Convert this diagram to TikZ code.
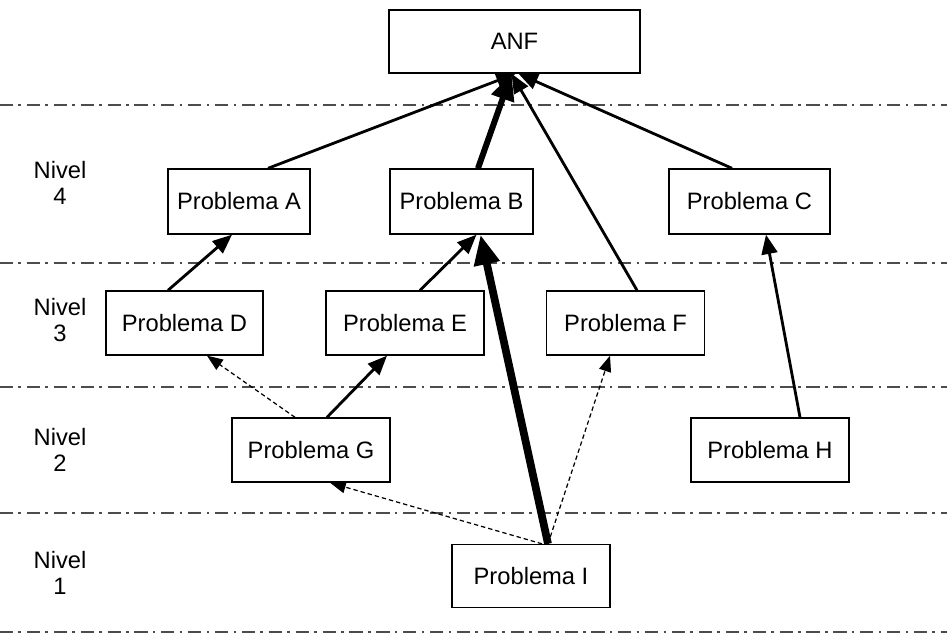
\documentclass[tikz,border=0pt]{standalone}
\usepackage{fontspec}
\setmainfont{Liberation Sans}
\usetikzlibrary{arrows.meta,calc}

\begin{document}
\begin{tikzpicture}[
  x=0.02cm, y=-0.02cm,
  problem/.style={rectangle, draw, line width=0.8pt, minimum height=1.28cm, inner sep=0pt, font=\fontsize{13.5}{16}\selectfont},
  level/.style={align=center, font=\fontsize{13.5}{15}\selectfont},
  separator/.style={dash pattern=on 7.5pt off 3pt on 1.5pt off 3.3pt, black!70},
  link/.style={-{Triangle[length=11pt,width=9pt]}, line width=1.6pt},
  weak/.style={-{Triangle[length=9pt,width=7pt]}, line width=0.7pt, dash pattern=on 2.5pt off 1.7pt},
  strong/.style={-{Triangle[length=15pt,width=13pt]}, line width=3.4pt},
  strongest/.style={-{Triangle[length=17pt,width=14pt]}, line width=4.4pt}
]
  \useasboundingbox (0,0) rectangle (947,639);

  % level separators
  \foreach \y/\w in {105/0.8pt, 263/0.8pt, 387/1.3pt, 513/0.8pt, 632/0.8pt}
    \draw[separator, line width=\w] (0,\y) -- (947,\y);

  \node[level] (n4) at (60,183) {Nivel\\4};
  \node[level] (n3) at (60,320) {Nivel\\3};
  \node[level] (n2) at (60,450) {Nivel\\2};
  \node[level] (n1) at (60,573) {Nivel\\1};

  \node[problem, minimum width=5.02cm, minimum height=1.26cm] (anf) at (514.5,41.5) {ANF};
  \node[problem, minimum width=2.84cm, minimum height=1.3cm] (pa) at (239,201.5) {Problema A};
  \node[problem, minimum width=2.86cm, minimum height=1.3cm] (pb) at (461.5,201.5) {Problema B};
  \node[problem, minimum width=3.22cm, minimum height=1.3cm] (pc) at (749.5,201.5) {Problema C};
  \node[problem, minimum width=3.14cm] (pd) at (184.5,323) {Problema D};
  \node[problem, minimum width=3.16cm] (pe) at (405,323) {Problema E};
  \node[problem, minimum width=3.16cm] (pf) at (625.5,323) {Problema F};
  \node[problem, minimum width=3.16cm] (pg) at (311,450) {Problema G};
  \node[problem, minimum width=3.16cm] (ph) at (770,450) {Problema H};
  \node[problem, minimum width=3.16cm, minimum height=1.26cm] (pi) at (531,576) {Problema I};

  % into ANF
  \draw[link] ($(pa.north)+(29,0)$) -- ($(anf.south)+(1,0)$);
  \draw[link] ($(pf.north)+(11.5,0)$) -- ($(anf.south)+(-3,0)$);
  \draw[link] ($(pc.north)+(-17.5,0)$) -- ($(anf.south)+(4,0)$);
  \draw[strong] ($(pb.north)+(16.5,0)$) -- ($(anf.south)+(-3,0)$);

  \draw[link] ($(pd.north)+(-16.5,0)$) -- ($(pa.south)+(-7,0)$);
  \draw[link] ($(pe.north)+(15,0)$) -- ($(pb.south)+(15,0)$);
  \draw[link] ($(pg.north)+(16,0)$) -- ($(pe.south)+(-18,0)$);
  \draw[link] ($(ph.north)+(30,0)$) -- ($(pc.south)+(16.5,0)$);
  \draw[strongest] ($(pi.north)+(17,0)$) -- ($(pb.south)+(19,0)$);

  % weak links
  \draw[weak] ($(pg.north)+(-16,0)$) -- ($(pd.south)+(22.5,0)$);
  \draw[weak] ($(pi.north)+(11,0)$) -- ($(pg.south)+(19,0)$);
  \draw[weak] ($(pi.north)+(17,0)$) -- ($(pf.south)+(-15.5,0)$);
\end{tikzpicture}
\end{document}
